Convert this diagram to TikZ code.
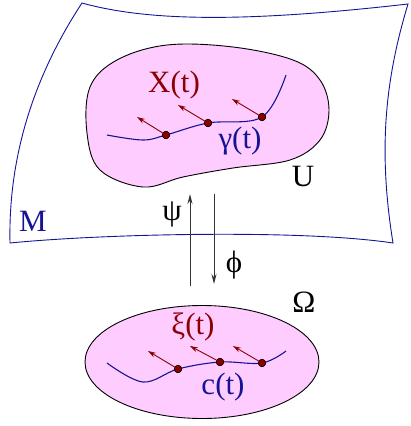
\documentclass[tikz,border=0pt]{standalone}
\usepackage{fontspec}
\setmainfont{Liberation Serif}
\usepackage{tikz}
\usetikzlibrary{positioning,arrows.meta,calc,shapes.geometric}
\definecolor{mblue}{RGB}{20,20,150}
\definecolor{vred}{RGB}{140,0,0}
\definecolor{chartpink}{RGB}{255,204,255}
\tikzset{
  >={Stealth[length=2.2mm]},
  mfold/.style={draw=mblue,line width=0.9pt},
  region/.style={draw=black,fill=chartpink,line width=0.9pt},
  crv/.style={draw=mblue,line width=1.1pt},
  ptdot/.style={circle,fill=vred,draw=black,line width=0.5pt,
    inner sep=0pt,minimum size=7.5pt},
  tang/.style={-{Stealth[length=8pt,width=5pt]},vred,line width=0.9pt},
  chartmap/.style={-{Stealth[length=10pt,width=5pt]},black!80,line width=1pt},
  lbl/.style={font=\fontsize{31}{33}\selectfont,inner sep=0pt},
}

\begin{document}
\begin{tikzpicture}[x=1pt,y=-1pt]
  \useasboundingbox (0,0) rectangle (410,426);
  % manifold sheet
  \draw[mfold] (82,3) .. controls (150,22) and (250,22) .. (408,4)
    .. controls (385,80) and (378,150) .. (393,243)
    .. controls (300,229) and (100,234) .. (10,243)
    .. controls (8,150) and (38,70) .. (82,3) -- cycle;
  \node[lbl,text=mblue] (M) at (33,221) {M};
  % chart domain U
  \draw[region] plot[smooth cycle,tension=0.6] coordinates {
    (143,187) (100,170) (87,133) (90,87) (117,60) (167,45) (233,47)
    (293,60) (320,80) (329,110) (320,140) (290,160) (233,168) (183,177)};
  \node[lbl] (U) at (303,176) {U};
  % curve gamma and vector field X
  \coordinate (g0) at (107,135);
  \coordinate (g1) at (143,140);
  \coordinate (g5) at (286,75);
  \node[ptdot] (a1) at (166,135) {};
  \node[ptdot] (a2) at (208,123) {};
  \node[ptdot] (a3) at (262,117) {};
  \draw[crv] plot[smooth,tension=0.6] coordinates {(g0) (g1) (a1) (a2) (a3) (g5)};
  \node[ptdot] at (a1) {};
  \node[ptdot] at (a2) {};
  \node[ptdot] at (a3) {};
  \coordinate (x1) at (137,117);
  \coordinate (x2) at (178,105);
  \coordinate (x3) at (232,99);
  \draw[tang] (a1) -- (x1);
  \draw[tang] (a2) -- (x2);
  \draw[tang] (a3) -- (x3);
  \node[lbl,text=vred] (X) at (174,85) {X(t)};
  \node[lbl,text=mblue] (gam) at (240,141) {γ(t)};
  % chart maps
  \coordinate (psiS) at (190,286);
  \coordinate (psiE) at (190,194);
  \coordinate (phiS) at (214,194);
  \coordinate (phiE) at (214,284);
  \draw[chartmap] (psiS) -- (psiE);
  \draw[chartmap] (phiS) -- (phiE);
  \node[lbl] (psi) at (172,214) {ψ};
  \node[lbl] (phi) at (234,265) {ϕ};
  % image Omega
  \node[region,ellipse,minimum width=234pt,minimum height=113pt]
    (Om) at (202,362) {};
  \node[lbl] (OmL) at (304,302) {Ω};
  \coordinate (c0) at (107,363);
  \coordinate (c1) at (143,382);
  \coordinate (c5) at (286,351);
  \node[ptdot] (b1) at (178,369) {};
  \node[ptdot] (b2) at (220,362) {};
  \node[ptdot] (b3) at (262,363) {};
  \draw[crv] plot[smooth,tension=0.6] coordinates {(c0) (c1) (b1) (b2) (b3) (c5)};
  \node[ptdot] at (b1) {};
  \node[ptdot] at (b2) {};
  \node[ptdot] at (b3) {};
  \coordinate (y1) at (148,351);
  \coordinate (y2) at (190,346);
  \coordinate (y3) at (233,346);
  \draw[tang] (b1) -- (y1);
  \draw[tang] (b2) -- (y2);
  \draw[tang] (b3) -- (y3);
  \node[lbl,text=vred] (xi) at (193,327) {ξ(t)};
  \node[lbl,text=mblue] (c) at (223,387) {c(t)};
\end{tikzpicture}
\end{document}
